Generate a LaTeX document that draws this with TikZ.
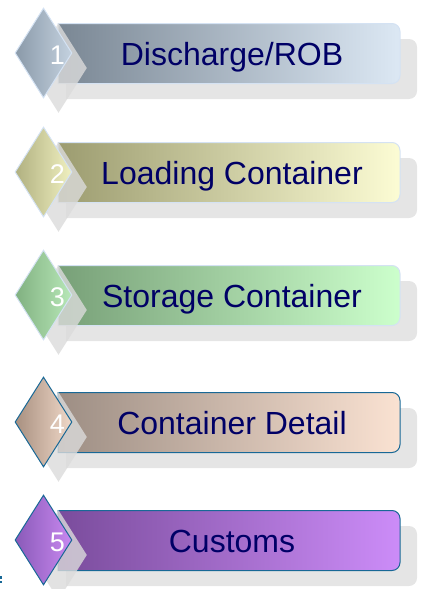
\documentclass[tikz,border=0pt]{standalone}
\usepackage{fontspec}
\setmainfont{Liberation Sans}
\usepackage{xcolor}
\usetikzlibrary{shapes.geometric, positioning}

\definecolor{navytext}{RGB}{0,0,102}
\definecolor{lightedge}{RGB}{212,226,243}
\definecolor{darkedge}{RGB}{24,104,150}
% banner colours, left -> right
\definecolor{robL}{RGB}{122,135,148}  \definecolor{robR}{RGB}{220,232,244}
\definecolor{loadL}{RGB}{156,156,112} \definecolor{loadR}{RGB}{252,252,212}
\definecolor{storL}{RGB}{120,160,120} \definecolor{storR}{RGB}{204,255,204}
\definecolor{detL}{RGB}{157,142,132}  \definecolor{detR}{RGB}{250,226,210}
\definecolor{cusL}{RGB}{122,76,156}   \definecolor{cusR}{RGB}{204,140,248}
% diamond colours, left -> right
\definecolor{robDL}{RGB}{138,153,168}  \definecolor{robDR}{RGB}{196,210,224}
\definecolor{loadDL}{RGB}{176,176,128} \definecolor{loadDR}{RGB}{240,240,192}
\definecolor{storDL}{RGB}{128,176,128} \definecolor{storDR}{RGB}{184,232,184}
\definecolor{detDL}{RGB}{168,144,128}  \definecolor{detDR}{RGB}{240,216,200}
\definecolor{cusDL}{RGB}{138,90,184}   \definecolor{cusDR}{RGB}{200,136,240}

\tikzset{
  bannershadow/.style={fill=black!10},
  kite/.style={diamond, minimum width=57pt, minimum height=90pt, inner sep=0pt, line width=1pt},
  kiteshadow/.style={kite, fill=black!14, fill opacity=0.8, draw=none},
  stepnum/.style={text=white, font=\fontsize{27}{27}\selectfont, inner sep=0pt, anchor=base},
  steptext/.style={text=navytext, font=\fontsize{32}{32}\selectfont, inner sep=0pt, anchor=base},
}

\begin{document}
\begin{tikzpicture}[x=1pt, y=-1pt]
\useasboundingbox (0,0) rectangle (424,589);

\foreach \i/\cy/\lbl/\cl/\cr/\dl/\dr/\edge in {
    1/53/Discharge\slash ROB/robL/robR/robDL/robDR/lightedge,
    2/172/Loading Container/loadL/loadR/loadDL/loadDR/lightedge,
    3/295/Storage Container/storL/storR/storDL/storDR/lightedge,
    4/422/Container Detail/detL/detR/detDL/detDR/darkedge,
    5/540/Customs/cusL/cusR/cusDL/cusDR/darkedge} {
    % shadow of the banner
    \fill[bannershadow] (66,\cy-14) [rounded corners=8pt] -- (417,\cy-14) -- (417,\cy+46)
        [sharp corners] -- (66,\cy+46) -- cycle;
    % banner
    \draw[left color=\cl, right color=\cr, draw=\edge, line width=1pt]
        (58,\cy-29.5) [rounded corners=8pt] -- (400,\cy-29.5) -- (400,\cy+30.5)
        [sharp corners] -- (58,\cy+30.5) -- cycle;
    % diamond with its shadow
    \node[kiteshadow] (shade\i) at (58.5,\cy+15) {};
    \node[kite, left color=\dl, right color=\dr, draw=\edge] (kite\i) at (43.5,\cy) {};
    \node[stepnum] (num\i) at (57.5,\cy+11) {\i};
    \node[steptext] (label\i) at (232,\cy+12) {\lbl};
}

% cut-off mark at the lower left edge
\fill[darkedge] (0,576) rectangle (2,578.5);
\fill[darkedge] (0,580.5) rectangle (2,583);
\end{tikzpicture}
\end{document}
